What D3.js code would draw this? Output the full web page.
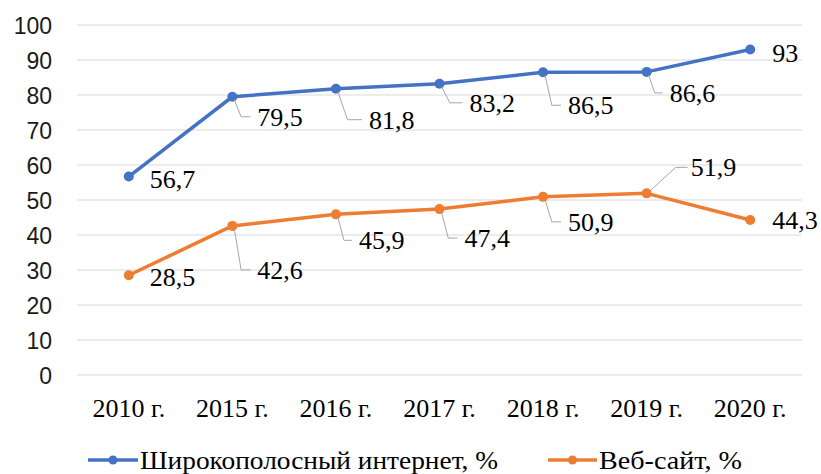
<!DOCTYPE html>
<html><head><meta charset="utf-8">
<script src="https://cdn.jsdelivr.net/npm/d3@7"></script>
<style>
html,body{margin:0;padding:0;background:#fff;}
svg{display:block;}
</style></head>
<body><svg id="c" width="821" height="474"></svg>
<script>
const categories = ["2010 г.","2015 г.","2016 г.","2017 г.","2018 г.","2019 г.","2020 г."];
const broadband = [56.7, 79.5, 81.8, 83.2, 86.5, 86.6, 93];
const website = [28.5, 42.6, 45.9, 47.4, 50.9, 51.9, 44.3];
const seriesNames = ["Широкополосный интернет, %", "Веб-сайт, %"];
const yTicks = [0,10,20,30,40,50,60,70,80,90,100];

// label layout (offsets from point in px): [dx, dy, leader?]
const labelLayout = [
  [[21,2,0],[25,20,1],[33,31,1],[30,19,1],[25,33,1],[23,21,1],[22,3,0]],
  [[21,2,0],[25,44,1],[23,26,1],[25,29,1],[25,25,1],[44,-26,1],[22,0,0]]
];
const colors = ["#4472C4","#ED7D31"];
const SERIF = "Liberation Serif";
const SANS = "Liberation Sans";

const svg = d3.select("#c");
const pLeft = 77, pRight = 802, pTop = 25, pBottom = 375;
const x = d3.scaleBand().domain(categories).range([pLeft, pRight]);
const cx = d => x(d) + x.bandwidth()/2;
const y = d3.scaleLinear().domain([0,100]).range([pBottom, pTop]);

// gridlines
svg.append("g").selectAll("line").data(yTicks).join("line")
  .attr("x1", pLeft).attr("x2", pRight)
  .attr("y1", d => y(d)).attr("y2", d => y(d))
  .attr("stroke", "#d9d9d9").attr("stroke-width", 1);

// y axis labels
const yAxis = d3.axisLeft(y).tickValues(yTicks).tickSize(0).tickPadding(0).tickFormat(d3.format("d"));
const ya = svg.append("g").attr("transform", `translate(52,0)`).call(yAxis);
ya.select(".domain").remove();
ya.attr("font-family", SANS).attr("font-size", 23);
ya.selectAll("text").attr("fill", "#1a1a1a").style("font-family", SANS).style("font-size", "23px").attr("dy", "0.35em");

// x axis labels
const xAxis = d3.axisBottom(x).tickSize(0).tickPadding(0);
const xa = svg.append("g").attr("transform", `translate(0,408)`).call(xAxis);
xa.select(".domain").remove();
xa.attr("font-family", SERIF).attr("font-size", 26);
xa.selectAll("text").attr("fill", "#000").style("font-family", SERIF).style("font-size", "26px")
  .attr("dy", "0.35em").attr("y", 0);

const series = [broadband, website];
const line = d3.line().x((d,i) => cx(categories[i])).y(d => y(d));

series.forEach((vals, s) => {
  const g = svg.append("g");
  g.append("path").datum(vals).attr("d", line).attr("fill", "none")
    .attr("stroke", colors[s]).attr("stroke-width", 3.5).attr("stroke-linejoin", "round");
  g.selectAll("circle").data(vals).join("circle")
    .attr("cx", (d,i) => cx(categories[i])).attr("cy", d => y(d)).attr("r", 5)
    .attr("fill", colors[s]);
});

// data labels with leader lines
series.forEach((vals, s) => {
  const g = svg.append("g");
  vals.forEach((v, i) => {
    const px = cx(categories[i]), py = y(v);
    const [dx, dy, lead] = labelLayout[s][i];
    const lx = px + dx, lyy = py + dy;
    if (lead) {
      let pts;
      if (dy > 0) pts = [[px + 2, py + 3], [px + Math.min(dx*0.35, 12), lyy], [lx - 7, lyy]];
      else pts = [[px + 3, py - 2], [lx - 15, lyy], [lx - 3, lyy]];
      g.append("path").attr("d", d3.line()(pts)).attr("fill", "none")
        .attr("stroke", "#a6a6a6").attr("stroke-width", 1);
    }
    g.append("text").attr("x", lx).attr("y", lyy).attr("dy", "0.35em")
      .style("font-size", "26px").attr("fill", "#000").style("font-family", SERIF)
      .text(String(v).replace(".", ","));
  });
});

// legend
const legendItems = [[88, 138, 358], [548, 597, 143]];
const legY = 460;
seriesNames.forEach((name, s) => {
  const [a, b, w] = legendItems[s];
  svg.append("line").attr("x1", a).attr("x2", b).attr("y1", legY).attr("y2", legY)
    .attr("stroke", colors[s]).attr("stroke-width", 3.5);
  svg.append("circle").attr("cx", (a+b)/2).attr("cy", legY).attr("r", 4.5).attr("fill", colors[s]);
  svg.append("text").attr("x", b + 2).attr("y", legY).attr("dy", "0.35em")
    .attr("textLength", w).attr("lengthAdjust", "spacingAndGlyphs")
    .style("font-size", "26px").attr("fill", "#000").style("font-family", SERIF).text(name);
});
</script></body></html>
